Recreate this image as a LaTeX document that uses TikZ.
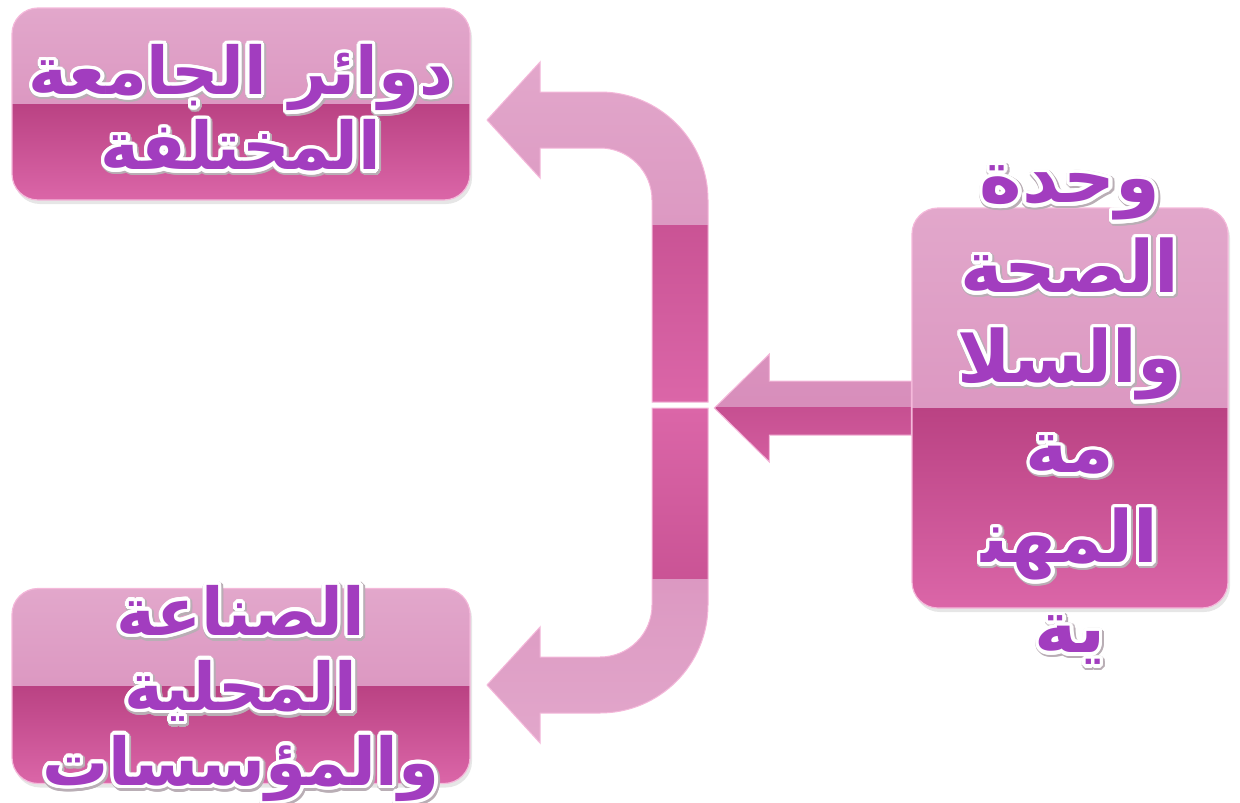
\documentclass[tikz,border=0pt]{standalone}
\usepackage{fontspec}
\usepackage{tikz}
\usepackage{contour}
\usetikzlibrary{calc,shapes,shadows,positioning}
\TeXXeTstate=1
\newfontfamily\arabicfont[Script=Arabic]{DejaVu Sans}
\definecolor{txtpurple}{HTML}{A23DBF}
\definecolor{pinklt}{HTML}{E2A7CB}
\definecolor{pinkmd}{HTML}{D689B8}
\definecolor{pinkdk}{HTML}{BA4283}
\definecolor{pinkbt}{HTML}{DB66A8}
\definecolor{pinkedge}{HTML}{F4B8DA}
\definecolor{txtshadow}{HTML}{B9AEB5}
\contourlength{3.5pt}
\contournumber{20}
\newcommand{\ar}[1]{\rlap{\kern1pt\raisebox{-1.5pt}{\contourlength{4.5pt}\color{txtshadow}\contour{txtshadow}{\arabicfont\bfseries\beginR #1\endR}}}%
	\contour{white}{\arabicfont\bfseries\beginR #1\endR}}
\newcommand{\stack}[1]{\raisebox{-0.25em}[0pt][0pt]{\begin{tabular}{@{}c@{}}#1\end{tabular}}}

\begin{document}
\begin{tikzpicture}[x=1pt,y=-1pt]
		\tikzstyle{bx}=[rounded corners=26pt, minimum width=458pt, minimum height=192pt, draw=pinkedge, line width=1.2pt, text=txtpurple, font=\fontsize{66}{75}\selectfont,
			drop shadow={opacity=0.2,shadow xshift=2pt,shadow yshift=-4pt},
			path picture={
				\shade[sharp corners, top color=pinklt, bottom color=pinkmd] (path picture bounding box.north west) rectangle (path picture bounding box.east);
				\shade[sharp corners, top color=pinkdk, bottom color=pinkbt] (path picture bounding box.west) rectangle (path picture bounding box.south east);}]
		\tikzstyle{arw}=[draw=pinkedge, line width=1pt, top color=pinklt, bottom color=pinkmd]

		\useasboundingbox (0,0) rectangle (1240,803);

		\node[bx, minimum width=316pt, minimum height=400pt, font=\fontsize{72}{90}\selectfont] (N1) at (1070,408)
			{\raisebox{20pt}{\stack{\ar{وحدة}\\ \ar{الصحة}\\ \ar{والسلا}\\ \ar{مة}\\ \ar{المهن^^^^200d}\\ \ar{ية}}}};
		\node[bx] (N2) at (241,104) {\raisebox{-6pt}{\stack{\ar{دوائر الجامعة}\\ \ar{المختلفة}}}};
		\node[bx, minimum height=195pt] (N3) at (241,686) {\raisebox{2pt}{\stack{\ar{الصناعة}\\ \ar{المحلية}\\ \ar{والمؤسسات}}}};

		\coordinate (hub) at (680,405);

		% arrow from the unit to the split
		\path[arw, top color=pinkmd!70!pinklt, bottom color=pinkmd,
			path picture={\shade[top color=pinkdk, bottom color=pinkbt!80!pinkdk] ($(hub)+(0,2)$) rectangle ($(N1.west)+(10,60)$);}]
			(N1.west) ++(0,-27) -- ++(-142,0) -- ++(0,-27) -- ++(-55,54) -- ++(55,54) -- ++(0,-27) -- ++(142,0) -- cycle;

		% upper branch
		\path[arw, path picture={\shade[top color=pinkdk, bottom color=pinkbt] (600,225) rectangle (760,402);}]
			($(hub)+(-28,-3)$) -- (652,200) arc (0:-90:52) -- (540,148) -- (540,178) -- (487,120) -- (540,62) -- (540,92)
			-- (600,92) arc (-90:0:108) -- ($(hub)+(28,-3)$) -- cycle;

		% lower branch
		\path[arw, top color=pinkmd, bottom color=pinklt, path picture={\shade[top color=pinkbt, bottom color=pinkdk] (600,408) rectangle (760,578);}]
			($(hub)+(-28,3)$) -- (652,605) arc (0:90:52) -- (540,657) -- (540,627) -- (487,685) -- (540,743) -- (540,713)
			-- (600,713) arc (90:0:108) -- ($(hub)+(28,3)$) -- cycle;
\end{tikzpicture}
\end{document}
